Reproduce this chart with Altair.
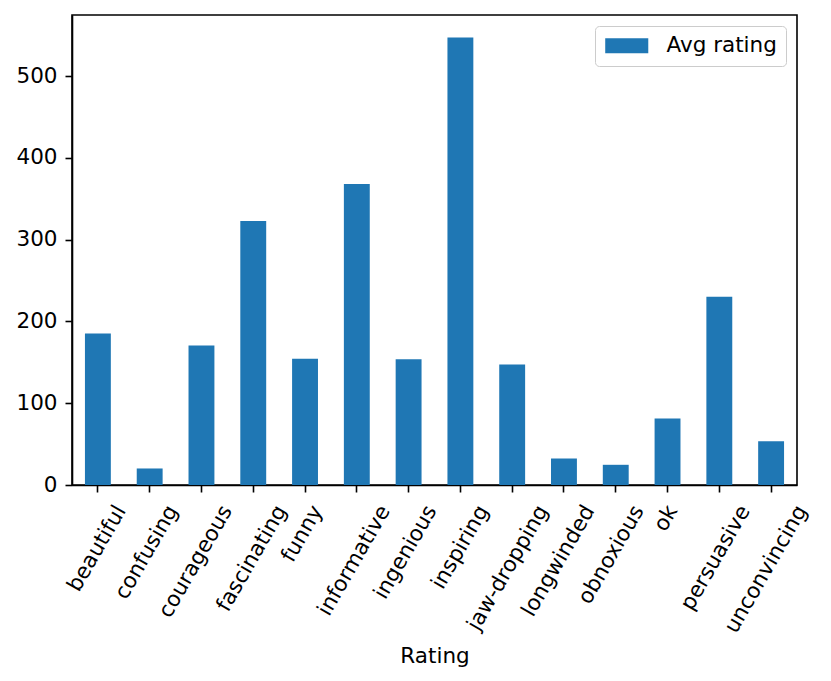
import altair as alt
import pandas as pd

categories = ["beautiful", "confusing", "courageous", "fascinating", "funny",
              "informative", "ingenious", "inspiring", "jaw-dropping",
              "longwinded", "obnoxious", "ok", "persuasive", "unconvincing"]
avg_rating = [185.2, 20.2, 170.4, 322.7, 154.5, 368.0, 153.7, 547.2, 147.2,
              32.4, 24.7, 81.4, 230.0, 53.6]
series_name = "Avg rating"
y_ticks = [0, 100, 200, 300, 400, 500]

df = pd.DataFrame({"Rating": categories, "value": avg_rating,
                   "series": [series_name] * len(categories)})

FONT = "DejaVu Sans"
FS = 21.5

chart = alt.Chart(df).mark_bar(color="#1f77b4").encode(
    x=alt.X("Rating:N", sort=categories,
            scale=alt.Scale(paddingInner=0.5, paddingOuter=0.25),
            axis=alt.Axis(
                title="Rating", labelAngle=-60, labelAlign="right",
                labelBaseline="middle",
                labelOffset=alt.ExprRef("length(datum.label) * 2.6"),
                labelPadding=15, labelFontSize=FS, labelFont=FONT,
                labelColor="black", labelOverlap=False, labelLimit=400,
                tickSize=7, tickWidth=1.6, tickColor="black",
                domainColor="black", domainWidth=1.6, grid=False,
                titleFontSize=FS, titleFont=FONT, titleFontWeight="normal",
                titleColor="black", titleBaseline="alphabetic",
                titleAlign="center", titleX=362.5, titleY=177)),
    y=alt.Y("value:Q",
            scale=alt.Scale(domain=[0, 574.6], nice=False, zero=True),
            axis=alt.Axis(
                title="", values=y_ticks, labelFontSize=FS, labelFont=FONT,
                labelColor="black", labelPadding=8, tickSize=7,
                tickWidth=1.6, tickColor="black", domainColor="black",
                domainWidth=1.6, grid=False)),
    color=alt.Color("series:N",
                    scale=alt.Scale(domain=[series_name], range=["#1f77b4"]),
                    legend=alt.Legend(
                        title=None, orient="top-right", offset=11,
                        fillColor="white", strokeColor="#cccccc",
                        cornerRadius=4, padding=9,
                        symbolType="M-2.87,-1H2.87V1H-2.87Z", symbolSize=225,
                        symbolOffset=12,
                        symbolStrokeWidth=0, symbolOpacity=1,
                        labelFontSize=FS, labelFont=FONT, labelColor="black",
                        labelOffset=29)),
).properties(
    width=725, height=470,
    autosize=alt.AutoSizeParams(type="none"),
    padding={"left": 64, "top": 7, "right": 20, "bottom": 190},
).configure_view(
    stroke="black", strokeWidth=1.6
)

chart.save("out.html", embed_options={"renderer": "svg", "actions": False})
